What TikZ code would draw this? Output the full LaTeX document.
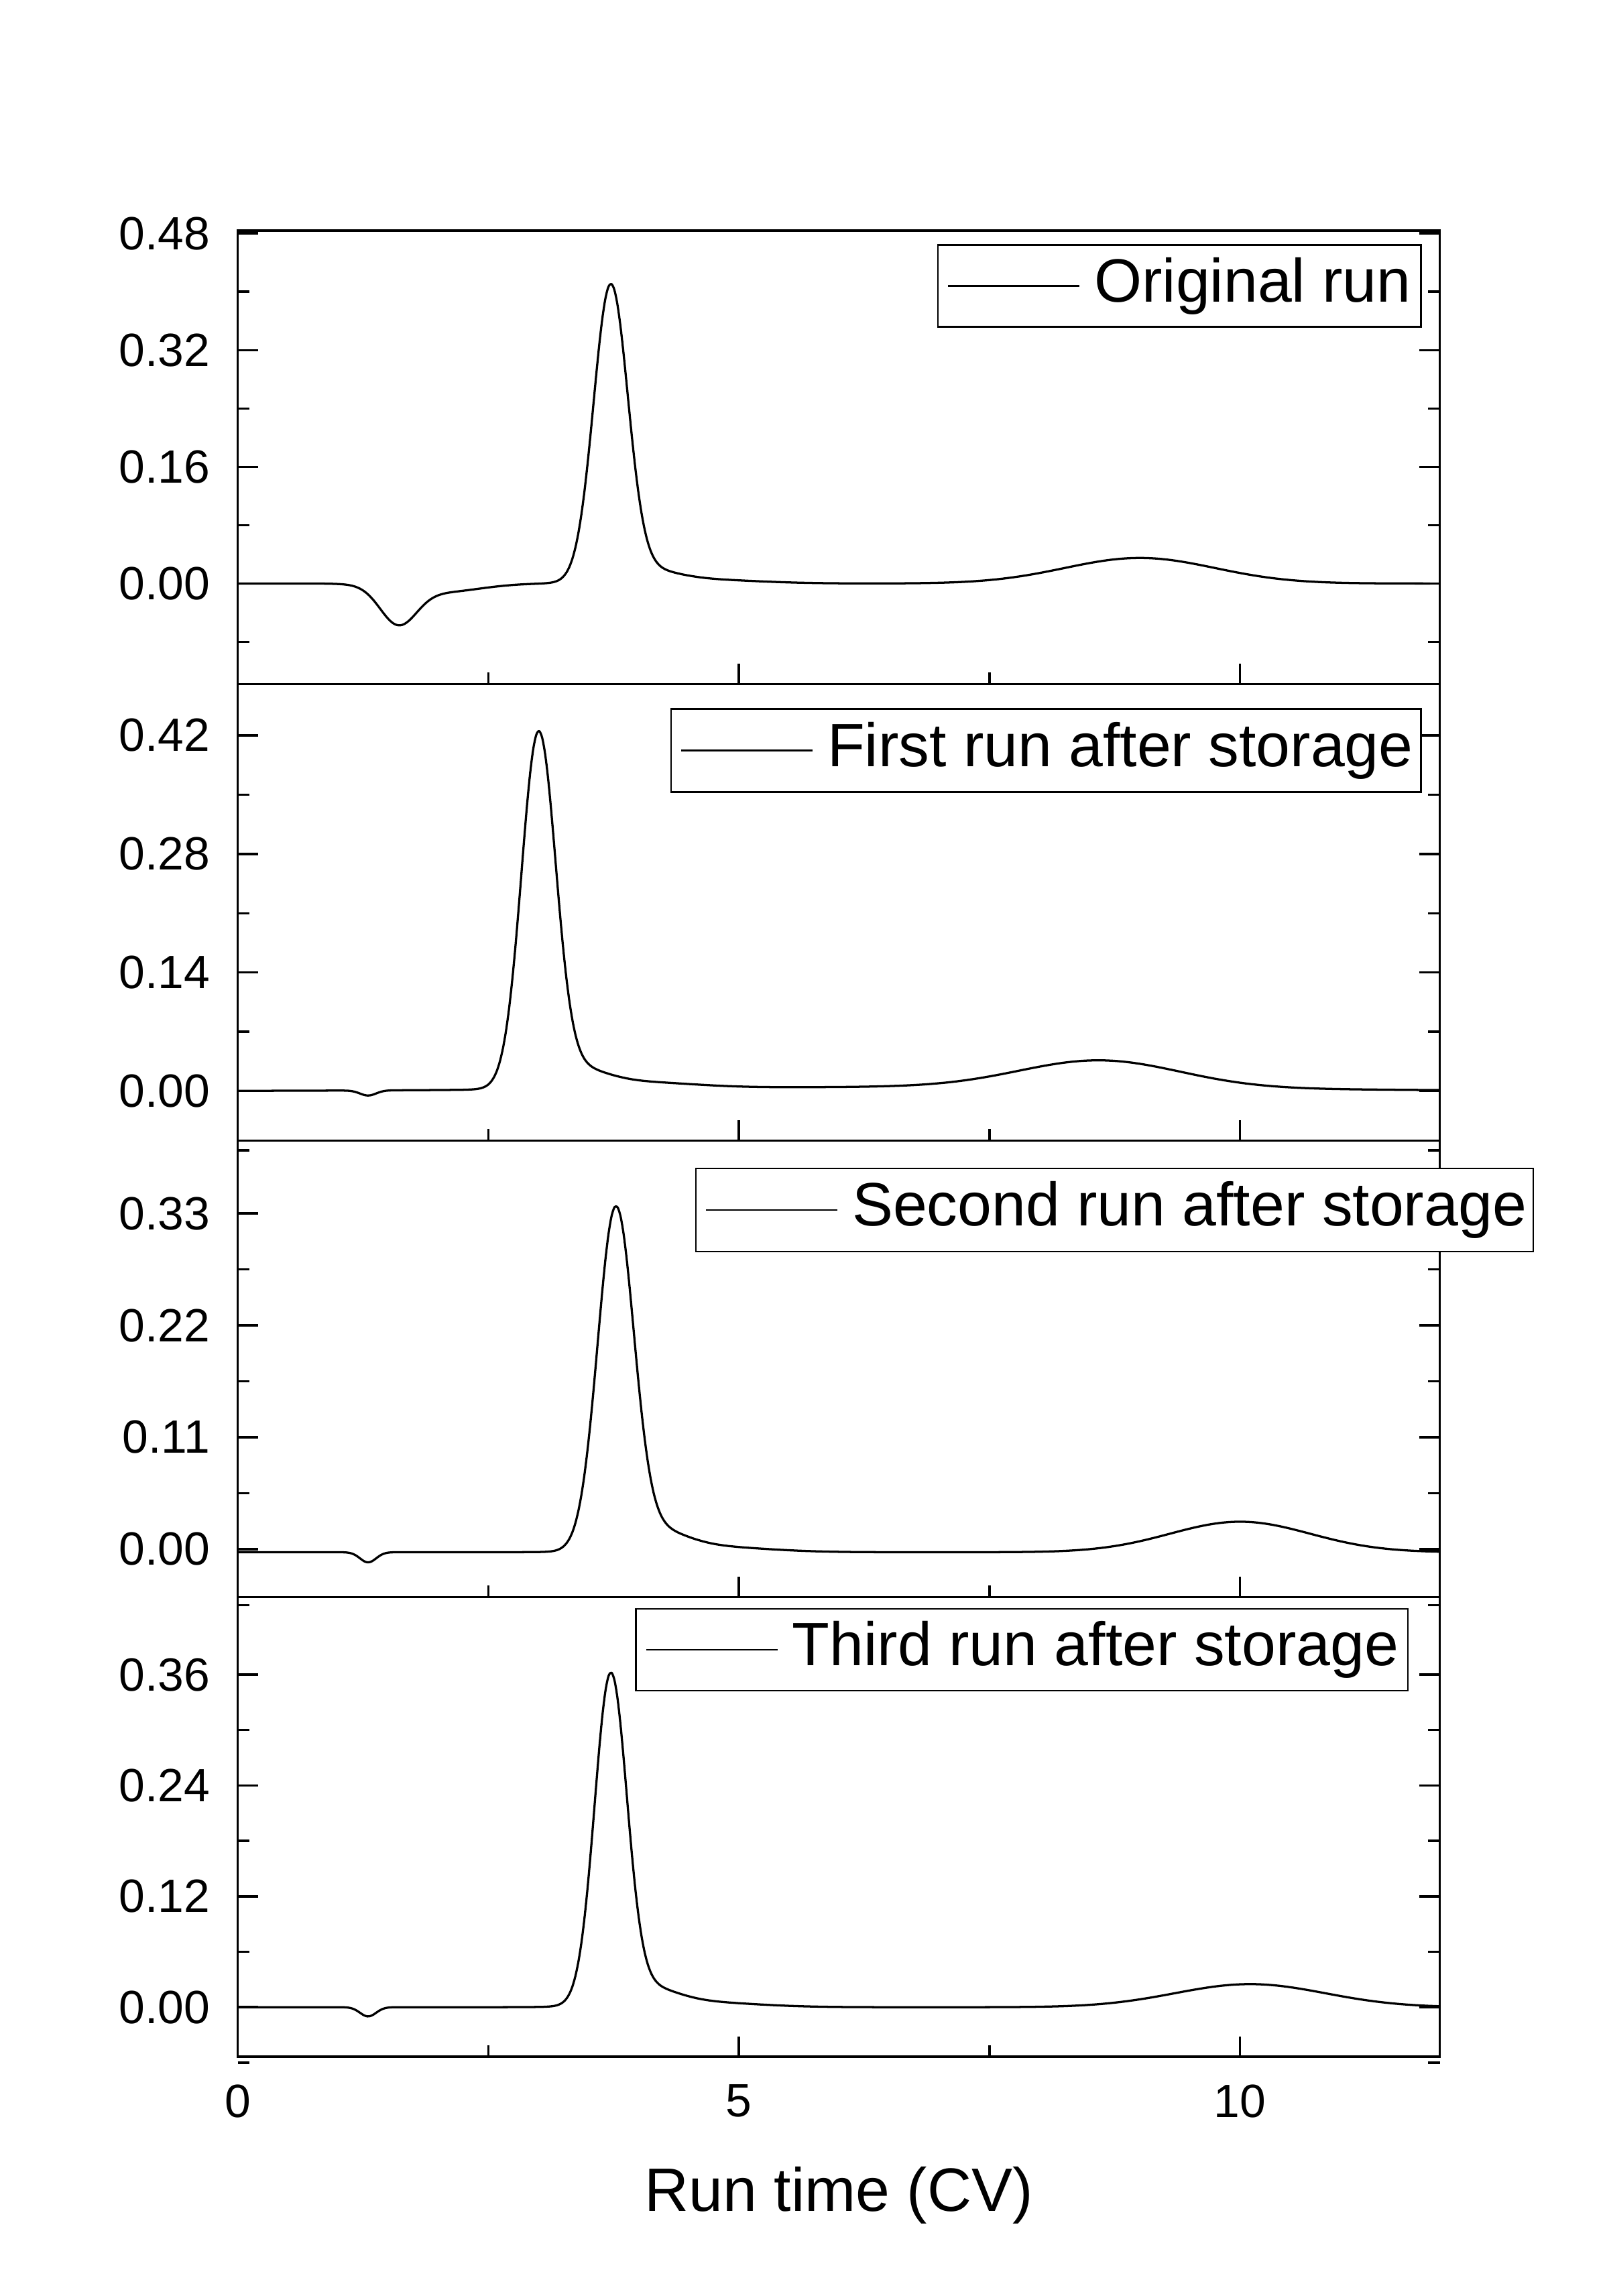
\documentclass[tikz,border=0pt]{standalone}
\usepackage{fontspec}
\setmainfont{Liberation Sans}
\begin{document}
\begin{tikzpicture}[x=1pt,y=-1pt,line width=1.6pt,
  declare function={g(\a,\m,\s)=exp(-min(abs((\a-\m)/\s),10)^2/2);},
  tl/.style={anchor=east,font=\fontsize{32}{36}\selectfont},
  lg/.style={anchor=west,font=\fontsize{42}{46}\selectfont},
  cv/.style={line width=1.5pt,line join=round}]
\useasboundingbox (0,0) rectangle (1100,1574);
\foreach \t/\b in {158/469,469/782,782/1095,1095/1410}{
  \draw (163,\t) rectangle (987,\b);
  \foreach \xx in {0,5,10}{\draw (163+68.7*\xx,\b) -- ++(0,-14);}
  \foreach \xx in {2.5,7.5}{\draw (163+68.7*\xx,\b) -- ++(0,-8);}
}
\foreach \xx in {0,5,10}{\node[font=\fontsize{32}{36}\selectfont,anchor=north] at (163+68.7*\xx,1425) {\xx};}
\node[font=\fontsize{42}{46}\selectfont] at (575,1505) {Run time (CV)};
\newcommand{\yticks}[3]{%
  \foreach \i/\lab in {#3}{
    \draw (163,#1-\i*#2) -- ++(14,0);
    \draw (987,#1-\i*#2) -- ++(-14,0);
    \node[tl] at (148,#1-\i*#2) {\lab};
  }
}
\yticks{400}{80}{0/0.00,1/0.16,2/0.32,3/0.48}
\yticks{748}{81.3}{0/0.00,1/0.14,2/0.28,3/0.42}
\yticks{1062}{76.7}{0/0.00,1/0.11,2/0.22,3/0.33}
\yticks{1376}{76}{0/0.00,1/0.12,2/0.24,3/0.36}
\foreach \z/\s in {400/80,748/81.3,1062/76.7,1376/76}{
  \foreach \i in {-0.5,0.5,1.5,2.5}{
    \draw (163,\z-\i*\s) -- ++(8,0); \draw (987,\z-\i*\s) -- ++(-8,0);
  }
}
\begin{scope}[shift={(163,400)},xscale=68.7,yscale=-500]
\draw[cv] plot[domain=0:11.9,samples=400,smooth] (\x,{0.40*g(\x,3.72,0.17)+0.015*g(\x,4.05,0.3)+0.006*g(\x,4.5,0.6)
 -0.05*g(\x,1.6,0.18)-0.012*g(\x,2,0.4)+0.035*g(\x,9,0.75)});
\end{scope}
\begin{scope}[shift={(163,748)},xscale=68.7,yscale=-581]
\draw[cv] plot[domain=0:12,samples=400,smooth] (\x,{0.41*g(\x,3.0,0.17)+0.02*g(\x,3.35,0.3)+0.008*g(\x,3.9,0.6)
 -0.006*g(\x,1.3,0.08)+0.005*g(\x,7,3)+0.032*g(\x,8.6,0.8)});
\end{scope}
\begin{scope}[shift={(163,1062)},xscale=68.7,yscale=-697]
\draw[cv] plot[domain=0:12,samples=400,smooth] (\x,{0.33*g(\x,3.77,0.18)+0.018*g(\x,4.15,0.3)+0.006*g(\x,4.6,0.6)
 -0.01*g(\x,1.3,0.08)-0.003+0.03*g(\x,10.0,0.7)});
\end{scope}
\begin{scope}[shift={(163,1376)},xscale=68.7,yscale=-633]
\draw[cv] plot[domain=0:12,samples=400,smooth] (\x,{0.35*g(\x,3.72,0.16)+0.018*g(\x,4.05,0.3)+0.006*g(\x,4.5,0.6)
 -0.01*g(\x,1.3,0.08)+0.025*g(\x,10.1,0.75)});
\end{scope}
\newcommand{\legbox}[6]{\draw[line width=1.2pt,fill=white] (#1,#3) rectangle (#2,#4);
  \draw[line width=1.2pt] (#1+7,{(#3+#4)/2}) -- ++(90,0);
  \node[lg] at (#5,{(#3+#4)/2}) {#6};}
\legbox{643}{974}{168}{224}{746}{Original run}
\legbox{460}{974}{486}{543}{563}{First run after storage}
\legbox{477}{1051}{801}{858}{580}{Second run after storage}
\legbox{436}{965}{1103}{1159}{539}{Third run after storage}
\end{tikzpicture}
\end{document}
